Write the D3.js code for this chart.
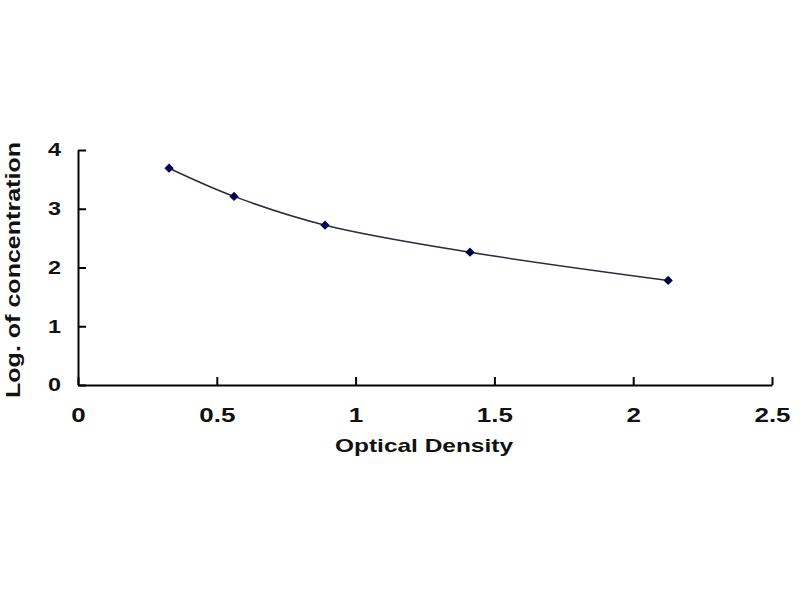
<!DOCTYPE html>
<html>
<head>
<meta charset="utf-8">
<script src="https://cdn.jsdelivr.net/npm/d3@7"></script>
<style>
  body { margin: 0; background: #fff; }
  text { font-family: Arial, "Liberation Sans", sans-serif; font-weight: bold; fill: #111; }
</style>
</head>
<body>
<div id="chart"></div>
<script>
// standard curve points
const opticalDensity = [0.328, 0.562, 0.890, 1.412, 2.126];
const logConcentration = [3.69, 3.21, 2.72, 2.26, 1.78];
const xTicks = [0, 0.5, 1, 1.5, 2, 2.5];
const yTicks = [0, 1, 2, 3, 4];

const width = 800, height = 600;
const margins = {'top': 150, 'right': 28, 'bottom': 215, 'left': 78};
const stretch = 1.3; // the source picture is widened, so the type is too

const svg = d3.select('#chart')
  .append('svg')
  .attr('width', width)
  .attr('height', height);

const x = d3.scaleLinear().domain([0, 2.5]).range([margins.left, width - margins.right]);
const y = d3.scaleLinear().domain([0, 4]).range([height - margins.bottom, margins.top]);

// x axis, ticks pointing up into the plot
const xAxis = svg.append('g')
  .attr('transform', `translate(0, ${y(0)})`)
  .call(d3.axisTop(x).tickValues(xTicks).tickSize(8).tickFormat(d3.format('')).tickSizeOuter(0));
xAxis.select('.domain').attr('stroke', '#000').attr('stroke-width', 2);
xAxis.selectAll('.tick line').attr('stroke', '#000').attr('stroke-width', 2);
xAxis.selectAll('.tick text')
  .attr('y', 37)
  .attr('font-size', '20px')
  .attr('transform', `scale(${stretch}, 1)`)
  .attr('fill', '#111');

// y axis, ticks pointing right into the plot
const yAxis = svg.append('g')
  .attr('transform', `translate(${x(0)}, 0)`)
  .call(d3.axisRight(y).tickValues(yTicks).tickSize(8).tickFormat(d3.format('d')).tickSizeOuter(0));
yAxis.select('.domain').attr('stroke', '#000').attr('stroke-width', 2);
yAxis.selectAll('.tick line').attr('stroke', '#000').attr('stroke-width', 2);
yAxis.selectAll('.tick text')
  .attr('x', -17 / stretch)
  .attr('text-anchor', 'end')
  .attr('font-size', '18px')
  .attr('transform', `scale(${stretch}, 1)`)
  .attr('fill', '#111');

// axis titles
svg.append('text')
  .attr('x', 424)
  .attr('y', 452)
  .attr('text-anchor', 'middle')
  .attr('font-size', '19px')
  .attr('textLength', 178)
  .attr('lengthAdjust', 'spacingAndGlyphs')
  .text('Optical Density');

svg.append('text')
  .attr('transform', `translate(20, 270) rotate(-90)`)
  .attr('text-anchor', 'middle')
  .attr('font-size', '21px')
  .attr('textLength', 256)
  .attr('lengthAdjust', 'spacingAndGlyphs')
  .text('Log. of concentration');

const points = opticalDensity.map((d, i) => [d, logConcentration[i]]);

const line = d3.line()
  .x(d => x(d[0]))
  .y(d => y(d[1]))
  .curve(d3.curveCatmullRom.alpha(0.5));

svg.append('path')
  .datum(points)
  .attr('fill', 'none')
  .attr('stroke', '#2a2a40')
  .attr('stroke-width', 1.5)
  .attr('d', line);

svg.selectAll('path.marker')
  .data(points)
  .enter()
  .append('path')
  .attr('class', 'marker')
  .attr('d', d3.symbol().type(d3.symbolDiamond2).size(55))
  .attr('transform', d => `translate(${x(d[0])}, ${y(d[1])})`)
  .attr('fill', '#000050');
</script>
</body>
</html>
